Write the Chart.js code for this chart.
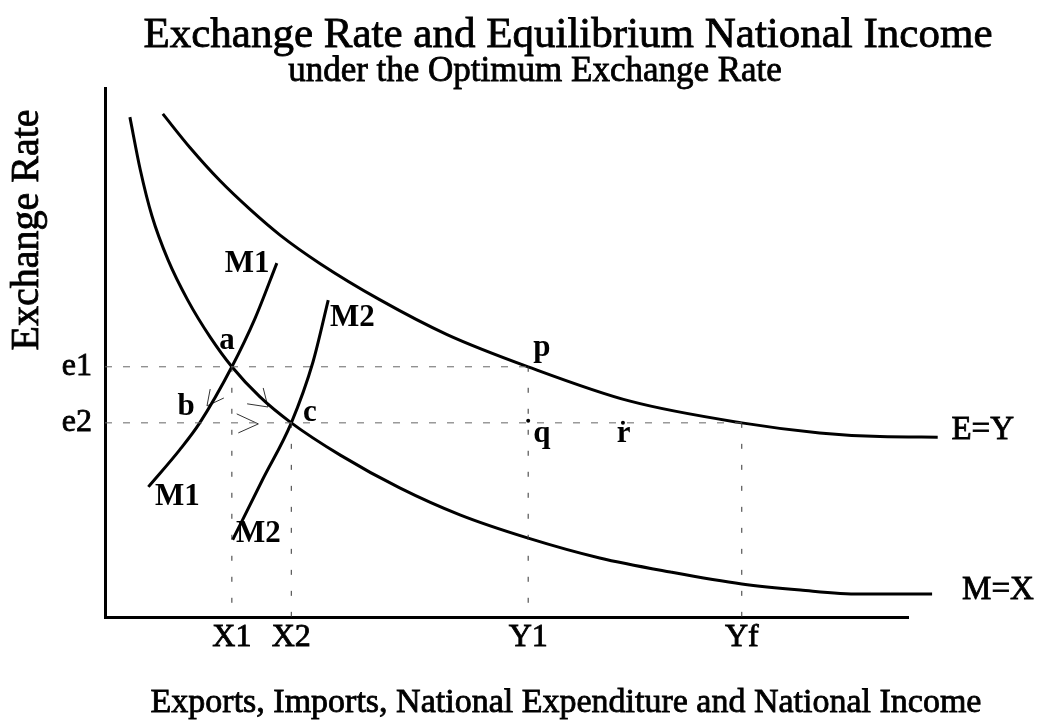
<!DOCTYPE html>
<html>
<head>
<meta charset="utf-8">
<script src="https://cdn.jsdelivr.net/npm/chart.js@4.4.1/dist/chart.umd.min.js"></script>
<style>
  html, body { margin: 0; padding: 0; background: #fff; }
</style>
</head>
<body>
<canvas id="rateChart" width="1040" height="721"></canvas>
<script>
const serif = "'Liberation Serif', 'Times New Roman', serif";

// key levels (chart units, 0-100 on both axes)
const X1 = 15.8, X2 = 23.2, Y1 = 52.7, Yf = 79.3;
const e1 = 47.3, e2 = 36.7;

const xTicks = [X1, X2, Y1, Yf];
const xTickLabels = ["X1", "X2", "Y1", "Yf"];
const yTicks = [e2, e1];
const yTickLabels = ["e2", "e1"];

// M=X curve
const mxX = [3.1, 4.4, 5.85, 7.85, 10.3, 13.1, 15.8, 19.3, 23.2, 29.3, 36.7, 44.2, 52.7, 61.6, 70.4, 79.3, 86.6, 94, 103];
const mxY = [94.5, 84.5, 75.8, 67.5, 59.9, 52.9, 47.3, 41.6, 36.7, 30.6, 24.4, 19.3, 14.9, 11.15, 8.5, 6.24, 5.1, 4.35, 4.35];

// E=Y curve
const eyX = [7.2, 10.6, 14.3, 18.1, 21.8, 26.8, 34.2, 42.6, 52.7, 65.4, 79.3, 89, 96.5, 103.7];
const eyY = [95.1, 88.7, 82.5, 77.0, 72.2, 66.8, 60.0, 53.4, 47.3, 40.8, 36.7, 34.8, 34.1, 34.0];

// M1 and M2 curves
const m1X = [5.4, 9.3, 11.8, 15.8, 18.7, 21.4];
const m1Y = [24.6, 31.6, 36.7, 47.3, 56.5, 66.9];
const m2X = [15.9, 19.6, 23.2, 25.9, 27.8];
const m2Y = [14.6, 25.9, 36.7, 48.2, 59.9];

// small arrow heads
const arrowB = { x: [13.1, 12.7, 14.8], y: [43.1, 39.9, 41.4] };
const arrowC = { x: [19.7, 20.3, 17.7], y: [43.3, 39.7, 40.3] };
const arrowMid = { x: [16.4, 19.1, 16.6], y: [38.4, 36.5, 34.8] };

// dots q and r
const dotX = [52.7, 64.5];
const dotY = [37.1, 36.7];

// text on the diagram
const labelText = ["M1", "M1", "M2", "M2", "a", "b", "c", "p", "q", "r"];
const labelX = [17.7, 9.0, 30.8, 19.1, 15.2, 10.1, 25.5, 54.4, 54.4, 64.6];
const labelY = [66.7, 22.7, 56.5, 15.7, 52.2, 39.7, 38.6, 50.9, 34.6, 34.6];
const curveNames = ["E=Y", "M=X"];
const curveNameX = [109.3, 111.2];
const curveNameY = [35.3, 5.1];

const titleText = "Exchange Rate and Equilibrium National Income";
const subtitleText = "under the Optimum Exchange Rate";
const xTitle = "Exports, Imports, National Expenditure and National Income";
const yTitle = "Exchange Rate";

const toPts = (xs, ys) => xs.map((v, i) => ({ x: v, y: ys[i] }));

function curve(xs, ys) {
    return {
        data: toPts(xs, ys),
        showLine: true,
        borderColor: "#000",
        borderWidth: 3,
        pointRadius: 0,
        cubicInterpolationMode: "monotone",
        clip: false
    };
}

function guide(x0, y0, x1, y1) {
    const flat = y0 === y1;
    return {
        data: [{ x: x0, y: y0 }, { x: x1, y: y1 }],
        showLine: true,
        borderColor: flat ? "#666" : "#333",
        borderWidth: 1,
        borderDash: flat ? [7, 11] : [5, 16],
        pointRadius: 0
    };
}

function arrow(a) {
    return {
        data: toPts(a.x, a.y),
        showLine: true,
        borderColor: "#333",
        borderWidth: 1,
        pointRadius: 0,
        tension: 0
    };
}

const datasets = [
    guide(0, e1, Y1, e1),
    guide(0, e2, Yf, e2),
    guide(X1, e1, X1, 0),
    guide(X2, e2, X2, 0),
    guide(Y1, e1, Y1, 0),
    guide(Yf, e2, Yf, 0),
    curve(mxX, mxY),
    curve(eyX, eyY),
    curve(m1X, m1Y),
    curve(m2X, m2Y),
    arrow(arrowB),
    arrow(arrowC),
    arrow(arrowMid),
    {
        data: toPts(dotX, dotY),
        showLine: false,
        pointRadius: 2,
        pointBackgroundColor: "#000",
        pointBorderWidth: 0
    }
];

function heavyText(ctx, t, px, py) {
    ctx.fillText(t, px, py);
    ctx.strokeText(t, px, py);
}

const textPlugin = {
    id: "diagramText",
    afterDraw(chart) {
        const { ctx, scales: { x, y } } = chart;
        ctx.save();
        ctx.fillStyle = "#000";
        ctx.strokeStyle = "#000";
        ctx.lineWidth = 0.8;
        ctx.textAlign = "center";
        ctx.textBaseline = "middle";

        ctx.font = "43px " + serif;
        heavyText(ctx, titleText, 568, 36);
        ctx.font = "35px " + serif;
        heavyText(ctx, subtitleText, 535, 72);
        ctx.font = "34px " + serif;
        heavyText(ctx, xTitle, 566, 703);

        ctx.font = "bold 31px " + serif;
        labelText.forEach((t, i) => {
            ctx.fillText(t, x.getPixelForValue(labelX[i]), y.getPixelForValue(labelY[i]));
        });
        ctx.font = "33px " + serif;
        curveNames.forEach((t, i) => {
            heavyText(ctx, t, x.getPixelForValue(curveNameX[i]), y.getPixelForValue(curveNameY[i]));
        });

        ctx.translate(27, 230);
        ctx.rotate(-Math.PI / 2);
        ctx.font = "40px " + serif;
        heavyText(ctx, yTitle, 0, 0);
        ctx.restore();
    }
};

new Chart("rateChart", {
    type: "scatter",
    data: { datasets: datasets },
    options: {
        responsive: false,
        animation: false,
        layout: { padding: { left: 0, right: 132, top: 88, bottom: 0 } },
        plugins: {
            legend: { display: false },
            tooltip: { enabled: false }
        },
        scales: {
            x: {
                type: "linear",
                min: 0,
                max: 100,
                grid: { display: false, drawTicks: false },
                border: { display: true, color: "#000", width: 3 },
                afterFit: s => { s.height = 104; },
                afterBuildTicks: s => { s.ticks = xTicks.map(v => ({ value: v })); },
                ticks: {
                    callback: (v, i) => xTickLabels[i],
                    font: { family: serif, size: 32 },
                    color: "#000",
                    textStrokeColor: "#000",
                    textStrokeWidth: 0.8,
                    padding: 1,
                    maxRotation: 0,
                    autoSkip: false
                }
            },
            y: {
                type: "linear",
                min: 0,
                max: 100,
                grid: { display: false, drawTicks: false },
                border: { display: true, color: "#000", width: 3 },
                afterFit: s => { s.width = 105; },
                afterBuildTicks: s => { s.ticks = yTicks.map(v => ({ value: v })); },
                ticks: {
                    callback: (v, i) => yTickLabels[i],
                    font: { family: serif, size: 32 },
                    color: "#000",
                    textStrokeColor: "#000",
                    textStrokeWidth: 0.8,
                    padding: 13,
                    autoSkip: false
                }
            }
        }
    },
    plugins: [textPlugin]
});
</script>
</body>
</html>
